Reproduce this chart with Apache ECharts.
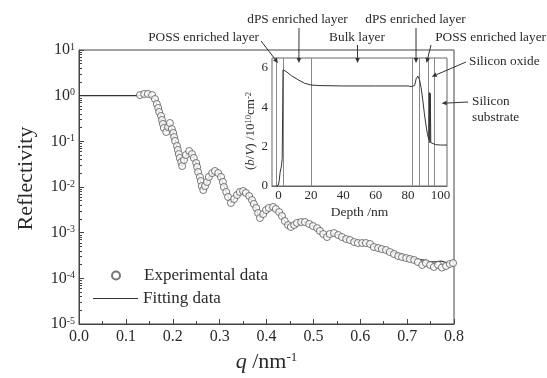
<!DOCTYPE html>
<html><head><meta charset="utf-8">
<script src="https://cdn.jsdelivr.net/npm/echarts@6/dist/echarts.min.js"></script>
<style>html,body{margin:0;padding:0;background:#fff}#c{width:547px;height:378px}</style>
</head><body><div id="c"></div>
<script>
// ---- Data ----
const expQ = [0.130,0.139,0.147,0.156,0.162,0.166,0.169,0.171,0.175,0.177,0.179,0.181,0.186,0.190,0.194,0.198,0.201,0.203,0.205,0.209,0.211,0.213,0.215,0.218,0.220,0.224,0.228,0.235,0.241,0.245,0.250,0.252,0.254,0.258,0.260,0.262,0.265,0.269,0.273,0.277,0.284,0.290,0.297,0.303,0.307,0.309,0.314,0.318,0.324,0.331,0.337,0.343,0.350,0.356,0.363,0.369,0.373,0.378,0.382,0.386,0.393,0.399,0.405,0.414,0.420,0.427,0.433,0.439,0.446,0.452,0.459,0.465,0.474,0.482,0.491,0.499,0.508,0.514,0.521,0.529,0.535,0.544,0.553,0.561,0.570,0.578,0.587,0.595,0.604,0.612,0.621,0.629,0.638,0.646,0.655,0.663,0.672,0.681,0.689,0.698,0.706,0.715,0.723,0.732,0.740,0.749,0.757,0.766,0.774,0.783,0.791,0.798];
const expR = [1.03,1.09,1.09,1.03,0.845,0.657,0.537,0.439,0.359,0.293,0.240,0.196,0.160,0.206,0.252,0.186,0.152,0.124,0.102,0.0791,0.0646,0.0527,0.0432,0.0352,0.0288,0.0390,0.0502,0.0614,0.0527,0.0432,0.0335,0.0274,0.0213,0.0166,0.0135,0.0105,0.00859,0.0105,0.0129,0.0166,0.0202,0.0224,0.0202,0.0166,0.0129,0.0100,0.00778,0.00604,0.00447,0.00546,0.00668,0.00778,0.00817,0.00740,0.00635,0.00519,0.00425,0.00347,0.00269,0.00209,0.00256,0.00313,0.00347,0.00365,0.00330,0.00283,0.00232,0.00180,0.00147,0.00133,0.00147,0.00163,0.00171,0.00171,0.00155,0.00140,0.00126,0.00109,0.000934,0.000803,0.000934,0.000982,0.000889,0.000803,0.000726,0.000690,0.000624,0.000593,0.000593,0.000593,0.000564,0.000485,0.000461,0.000438,0.000417,0.000377,0.000341,0.000308,0.000293,0.000278,0.000265,0.000252,0.000228,0.000196,0.000216,0.000196,0.000177,0.000196,0.000172,0.000186,0.000206,0.000216];
const fitQ = [0,0.05,0.10,0.13,0.145,0.152,0.158,0.163,0.168,0.173,0.178,0.183,0.186,0.190,0.194,0.198,0.203,0.208,0.213,0.218,0.221,0.226,0.232,0.236,0.242,0.248,0.254,0.260,0.265,0.270,0.278,0.286,0.292,0.300,0.308,0.316,0.324,0.332,0.342,0.350,0.358,0.366,0.374,0.380,0.386,0.394,0.404,0.414,0.424,0.434,0.444,0.452,0.462,0.474,0.484,0.496,0.508,0.518,0.528,0.536,0.546,0.556,0.568,0.580,0.592,0.604,0.616,0.628,0.640,0.652,0.664,0.676,0.688,0.700,0.712,0.724,0.736,0.748,0.760,0.772,0.784,0.796];
const fitR = [1,1,1,1,1,0.98,0.90,0.80,0.52,0.38,0.26,0.18,0.16,0.20,0.24,0.19,0.125,0.082,0.052,0.034,0.028,0.045,0.058,0.061,0.050,0.036,0.021,0.0125,0.0084,0.011,0.017,0.021,0.022,0.018,0.0115,0.0069,0.0044,0.0057,0.0077,0.0080,0.0070,0.0055,0.0040,0.0029,0.0021,0.0026,0.0034,0.0036,0.0030,0.0021,0.0015,0.00128,0.00150,0.00168,0.00170,0.00145,0.00118,0.00095,0.00080,0.00090,0.00097,0.00088,0.00075,0.00068,0.00063,0.00060,0.00057,0.00050,0.00046,0.00042,0.00038,0.00036,0.00033,0.00030,0.00027,0.00026,0.00025,0.00023,0.00023,0.00024,0.00022,0.00021];
const depth = [-1.5,0,0.5,1.0,1.8,2.3,2.8,3.2,5,8,12,16,20,25,40,60,80,82,83,84,85,86,87,88,89,90,91,92,92.8,93.1,93.4,93.7,94.0,95,97,100,104];
const sld = [0,0.05,0.3,0.7,1.0,1.4,5.9,5.95,5.8,5.6,5.4,5.22,5.13,5.1,5.08,5.08,5.08,5.05,5.0,5.1,5.45,5.58,5.4,5.0,4.4,3.7,3.1,2.6,2.35,4.75,2.2,4.7,2.2,2.15,2.1,2.08,2.08];
const layerBounds = [-1.4, 3, 20, 82.5, 87, 92.6, 96.3];
const xTickVals = [0,0.1,0.2,0.3,0.4,0.5,0.6,0.7,0.8];
const yTickExps = [-5,-4,-3,-2,-1,0,1];
const insetXTicks = [0,20,40,60,80,100];
const insetXMinor = [10,30,50,70,90];
const seriesNames = ['Experimental data','Fitting data'];
const annotations = [
  {text:'POSS enriched layer', target:[-0.3, 6.25]},
  {text:'dPS enriched layer', target:[12.6, 6.25]},
  {text:'Bulk layer', target:[48.8, 6.25]},
  {text:'dPS enriched layer', target:[84.9, 6.25]},
  {text:'POSS enriched layer', target:[91.4, 6.25]},
  {text:'Silicon oxide', target:[94.6, 5.55]},
  {text:'Silicon\nsubstrate', target:[100.7, 4.2]}
];
// ---- Layout ----
const annoLayout = [
  {x:259, y:38, align:'right', from:[261,41]},
  {x:297.5, y:20, align:'center', from:[299,28]},
  {x:357, y:38, align:'center', from:[357.5,45]},
  {x:415.5, y:20, align:'center', from:[416,28]},
  {x:546, y:38, align:'right', from:[431,45]},
  {x:469, y:62, align:'left', from:[466,62]},
  {x:472, y:110, align:'left', from:[468,102]}
];
const SERIF = "'Liberation Serif','Times New Roman',serif";
const TXT = '#2a2a2a', AX = '#444';

const minorLog = [];
for (let i = 0; i < yTickExps.length - 1; i++) for (let k = 2; k <= 9; k++) minorLog.push(+(k * Math.pow(10, yTickExps[i])).toPrecision(3));

const chart = echarts.init(document.getElementById('c'));
const logMin = Math.pow(10, yTickExps[0]), logMax = Math.pow(10, yTickExps[yTickExps.length-1]);

chart.setOption({
  animation: false,
  backgroundColor: '#fff',
  grid: [
    {left:79, top:50, width:375, height:274, show:true, borderColor:AX, borderWidth:1, backgroundColor:'transparent'},
    {left:272, top:58, width:175, height:128, show:true, borderColor:'#666', borderWidth:1, backgroundColor:'#fff', z:4}
  ],
  legend: [
    {data:[{name:seriesNames[0], icon:'circle'}], left:106, top:262, itemWidth:8, itemHeight:8, selectedMode:false,
     textStyle:{fontSize:17, fontFamily:SERIF, color:TXT, padding:[0,0,0,19]}},
    {data:[{name:seriesNames[1], icon:'rect', itemStyle:{color:'#333', borderWidth:0}}], left:88, top:285, itemWidth:45, itemHeight:1.2, selectedMode:false,
     textStyle:{fontSize:17, fontFamily:SERIF, color:TXT}}
  ],
  xAxis: [
    {gridIndex:0, type:'value', min:xTickVals[0], max:xTickVals[xTickVals.length-1], interval:0.1,
     axisLine:{lineStyle:{color:AX}}, axisTick:{inside:true, length:5, lineStyle:{color:AX}},
     minorTick:{show:true, splitNumber:2, length:3, lineStyle:{color:AX}},
     splitLine:{show:false},
     axisLabel:{formatter:v=>v.toFixed(1), fontSize:16, fontFamily:SERIF, color:TXT, margin:5},
     name:'{i|q} /nm{s|-1}', nameLocation:'middle', nameGap:27,
     nameTextStyle:{fontSize:22, fontFamily:SERIF, color:TXT,
       rich:{i:{fontSize:22, fontFamily:SERIF, fontStyle:'italic', color:TXT}, s:{fontSize:13, fontFamily:SERIF, color:TXT, verticalAlign:'top'}}}},
    {gridIndex:1, type:'value', min:-4, max:104,
     axisLine:{lineStyle:{color:'#666'}}, axisTick:{inside:true, length:4, customValues:insetXTicks, lineStyle:{color:'#666'}},
     splitLine:{show:false},
     axisLabel:{customValues:insetXTicks, fontSize:13, fontFamily:SERIF, color:TXT, margin:3},
     name:'Depth /nm', nameLocation:'middle', nameGap:19,
     nameTextStyle:{fontSize:13.5, fontFamily:SERIF, color:TXT}},
    {gridIndex:1, type:'value', min:-4, max:104, position:'bottom',
     axisLine:{show:false}, axisLabel:{show:false}, splitLine:{show:false},
     axisTick:{inside:true, length:2, customValues:insetXMinor, lineStyle:{color:'#666'}}}
  ],
  yAxis: [
    {gridIndex:0, type:'log', logBase:10, min:logMin, max:logMax,
     axisLine:{show:true, lineStyle:{color:AX}}, axisTick:{show:true, inside:true, length:5, lineStyle:{color:AX}},
     splitLine:{show:false},
     axisLabel:{formatter:v=>'{b|10}{e|' + Math.round(Math.log10(v)) + '}', margin:4,
       rich:{b:{fontSize:16, fontFamily:SERIF, color:TXT}, e:{fontSize:10, fontFamily:SERIF, color:TXT, verticalAlign:'top'}}},
     name:'Reflectivity', nameLocation:'middle', nameGap:42,
     nameTextStyle:{fontSize:22, fontFamily:SERIF, color:TXT, padding:[0,0,0,17]}},
    {gridIndex:0, type:'log', logBase:10, min:logMin, max:logMax, position:'left',
     axisLine:{show:false}, axisLabel:{show:false}, splitLine:{show:false},
     axisTick:{show:true, inside:true, length:3, customValues:minorLog, lineStyle:{color:AX}}},
    {gridIndex:1, type:'value', min:0, max:6.5, interval:2,
     axisLine:{show:true, lineStyle:{color:'#666'}}, axisTick:{show:true, inside:true, length:4, lineStyle:{color:'#666'}},
     minorTick:{show:true, splitNumber:2, length:2, lineStyle:{color:'#666'}},
     splitLine:{show:false},
     axisLabel:{fontSize:13, fontFamily:SERIF, color:TXT, margin:4},
     name:'({i|b}/{i|V}) /10{s|10}cm{s|-2}', nameLocation:'middle', nameGap:15,
     nameTextStyle:{fontSize:13, fontFamily:SERIF, color:TXT, padding:[0,18,0,0],
       rich:{i:{fontSize:13, fontFamily:SERIF, fontStyle:'italic', color:TXT}, s:{fontSize:8.5, fontFamily:SERIF, color:TXT, verticalAlign:'top'}}}}
  ],
  series: [
    {name:seriesNames[0], type:'scatter', xAxisIndex:0, yAxisIndex:0, symbol:'circle', symbolSize:7, z:3,
     itemStyle:{color:'#fff', borderColor:'#555', borderWidth:1},
     data: expQ.map((q,i)=>[q, expR[i]])},
    {name:seriesNames[1], type:'line', xAxisIndex:0, yAxisIndex:0, symbol:'none', z:2,
     itemStyle:{color:'#333'},
     lineStyle:{color:'#333', width:1.2},
     data: fitQ.map((q,i)=>[q, fitR[i]])},
    {name:'SLD', type:'line', xAxisIndex:1, yAxisIndex:2, symbol:'none', z:5,
     lineStyle:{color:'#333', width:1},
     data: depth.map((d,i)=>[d, sld[i]]),
     markLine:{silent:true, symbol:['none','none'], label:{show:false}, animation:false,
       lineStyle:{color:'#888', width:1, type:'solid'},
       data: layerBounds.map(v=>({xAxis:v}))}}
  ]
});

const els = [];
annotations.forEach((a, i) => {
  const L = annoLayout[i];
  els.push({type:'text', x:L.x, y:L.y, z:100,
    style:{text:a.text, align:L.align, verticalAlign:'middle', fontSize:13.3, fontFamily:SERIF, fill:TXT, lineHeight:16}});
  const tip = chart.convertToPixel({gridIndex:1}, a.target);
  const x1 = L.from[0], y1 = L.from[1], x2 = tip[0], y2 = tip[1];
  const dx = x2-x1, dy = y2-y1, len = Math.hypot(dx,dy), ux = dx/len, uy = dy/len;
  const hl = 5, hw = 2.3, bx = x2-ux*hl, by = y2-uy*hl;
  els.push({type:'line', z:100, shape:{x1:x1, y1:y1, x2:bx, y2:by}, style:{stroke:'#333', lineWidth:1}});
  els.push({type:'polygon', z:100, shape:{points:[[x2,y2],[bx-uy*hw, by+ux*hw],[bx+uy*hw, by-ux*hw]]}, style:{fill:'#333'}});
});
chart.setOption({graphic:{elements:els}});
</script>
</body></html>
